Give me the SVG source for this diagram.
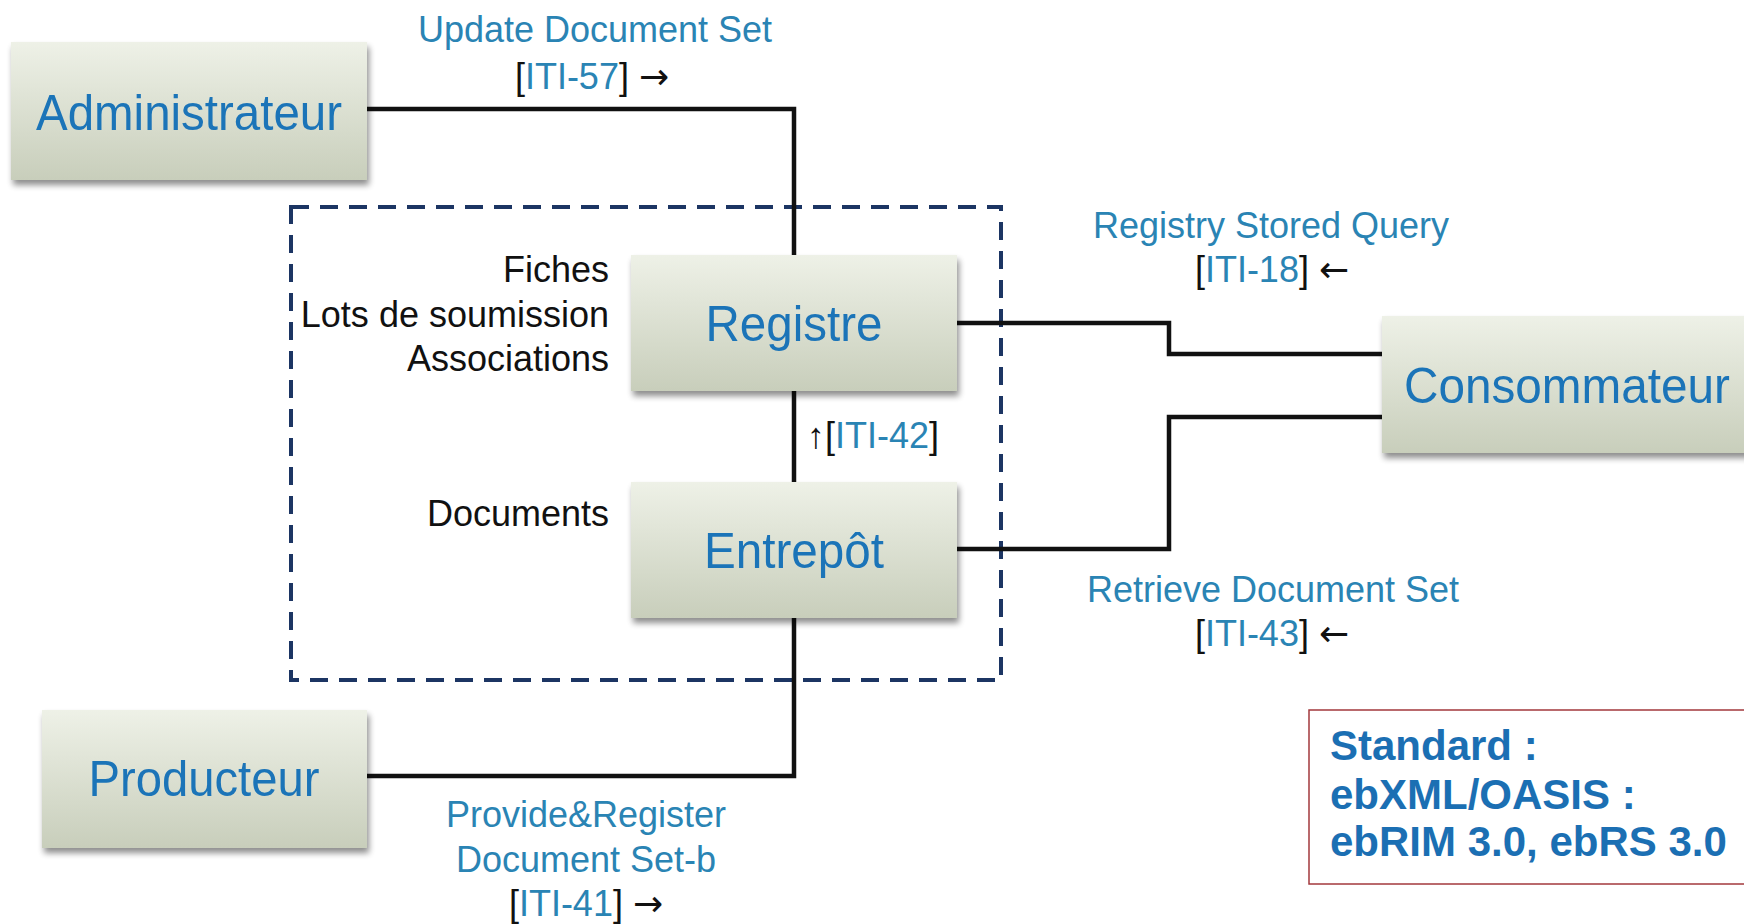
<svg xmlns="http://www.w3.org/2000/svg" width="1744" height="924" viewBox="0 0 1744 924">
  <defs>
    <linearGradient id="boxFill" x1="0" y1="0" x2="0" y2="1">
      <stop offset="0" stop-color="#eef1e7"/>
      <stop offset="1" stop-color="#c8cebb"/>
    </linearGradient>
    <filter id="shadow" x="-10%" y="-10%" width="125%" height="130%">
      <feGaussianBlur in="SourceAlpha" stdDeviation="3"/>
      <feOffset dx="2" dy="5" result="b"/>
      <feComponentTransfer><feFuncA type="linear" slope="0.45"/></feComponentTransfer>
      <feMerge><feMergeNode/><feMergeNode in="SourceGraphic"/></feMerge>
    </filter>
    <style>
      .box { fill: url(#boxFill); filter: url(#shadow); }
      .node-label { font-family: "Liberation Sans", Arial, sans-serif; font-size: 50px; fill: #1b74b8; text-anchor: middle; }
      .edge-label { font-family: "Liberation Sans", Arial, sans-serif; font-size: 36px; fill: #2a84b4; text-anchor: middle; }
      .ref { font-family: "Liberation Sans", Arial, sans-serif; font-size: 36px; fill: #111; }
      .blue { fill: #2a84b4; }
      .arrow { font-family: "DejaVu Sans", sans-serif; font-size: 36px; }
      .side { font-family: "Liberation Sans", Arial, sans-serif; font-size: 36px; fill: #111; text-anchor: end; }
      .wire { fill: none; stroke: #111; stroke-width: 4.5; stroke-linejoin: miter; }
      .std { font-family: "Liberation Sans", Arial, sans-serif; font-size: 42px; font-weight: bold; fill: #1b6fb3; }
    </style>
  </defs>

  <rect width="1744" height="924" fill="#ffffff"/>

  <!-- dashed boundary around registry and repository -->
  <rect id="boundary" x="291" y="207" width="710" height="473" fill="none" stroke="#1c3563" stroke-width="4" stroke-dasharray="18 11"/>

  <!-- connectors -->
  <g id="connectors">
    <polyline class="wire" points="367,109 794,109 794,255"/>
    <line class="wire" x1="794" y1="391" x2="794" y2="482"/>
    <polyline class="wire" points="794,618 794,776 367,776"/>
    <polyline class="wire" points="957,323 1169,323 1169,354 1382,354"/>
    <polyline class="wire" points="957,549 1169,549 1169,417 1382,417"/>
  </g>

  <!-- nodes -->
  <g id="administrateur">
    <rect class="box" x="11" y="42" width="356" height="138"/>
    <text class="node-label" x="189" y="130" textLength="306" lengthAdjust="spacingAndGlyphs">Administrateur</text>
  </g>
  <g id="registre">
    <rect class="box" x="631" y="255" width="326" height="136"/>
    <text class="node-label" x="794" y="341" textLength="177" lengthAdjust="spacingAndGlyphs">Registre</text>
  </g>
  <g id="entrepot">
    <rect class="box" x="631" y="482" width="326" height="136"/>
    <text class="node-label" x="794" y="568" textLength="180" lengthAdjust="spacingAndGlyphs">Entrepôt</text>
  </g>
  <g id="producteur">
    <rect class="box" x="42" y="710" width="325" height="138"/>
    <text class="node-label" x="204" y="796" textLength="231" lengthAdjust="spacingAndGlyphs">Producteur</text>
  </g>
  <g id="consommateur">
    <rect class="box" x="1382" y="316" width="380" height="137"/>
    <text class="node-label" x="1567" y="403" textLength="326" lengthAdjust="spacingAndGlyphs">Consommateur</text>
  </g>

  <!-- content stored in each actor -->
  <g id="registre-contents">
    <text class="side" x="609" y="282">Fiches</text>
    <text class="side" x="609" y="327">Lots de soumission</text>
    <text class="side" x="609" y="371">Associations</text>
  </g>
  <g id="entrepot-contents">
    <text class="side" x="609" y="526">Documents</text>
  </g>

  <!-- transaction labels -->
  <g id="labels">
    <text class="edge-label" x="595" y="42">Update Document Set</text>
    <text class="ref" x="592" y="89" text-anchor="middle">[<tspan class="blue">ITI-57</tspan>] <tspan class="arrow">→</tspan></text>

    <text class="ref" x="807" y="448">↑[<tspan class="blue">ITI-42</tspan>]</text>

    <text class="edge-label" x="1271" y="238">Registry Stored Query</text>
    <text class="ref" x="1272" y="282" text-anchor="middle">[<tspan class="blue">ITI-18</tspan>] <tspan class="arrow">←</tspan></text>

    <text class="edge-label" x="1273" y="602">Retrieve Document Set</text>
    <text class="ref" x="1272" y="646" text-anchor="middle">[<tspan class="blue">ITI-43</tspan>] <tspan class="arrow">←</tspan></text>

    <text class="edge-label" x="586" y="827">Provide&amp;Register</text>
    <text class="edge-label" x="586" y="872">Document Set-b</text>
    <text class="ref" x="586" y="916" text-anchor="middle">[<tspan class="blue">ITI-41</tspan>] <tspan class="arrow">→</tspan></text>
  </g>

  <!-- standards note -->
  <g id="standard">
    <rect x="1309" y="710" width="450" height="174" fill="#ffffff" stroke="#a3393d" stroke-width="1.5"/>
    <text class="std" x="1330" y="760">Standard :</text>
    <text class="std" x="1330" y="809">ebXML/OASIS :</text>
    <text class="std" x="1330" y="856">ebRIM 3.0, ebRS 3.0</text>
  </g>
</svg>
